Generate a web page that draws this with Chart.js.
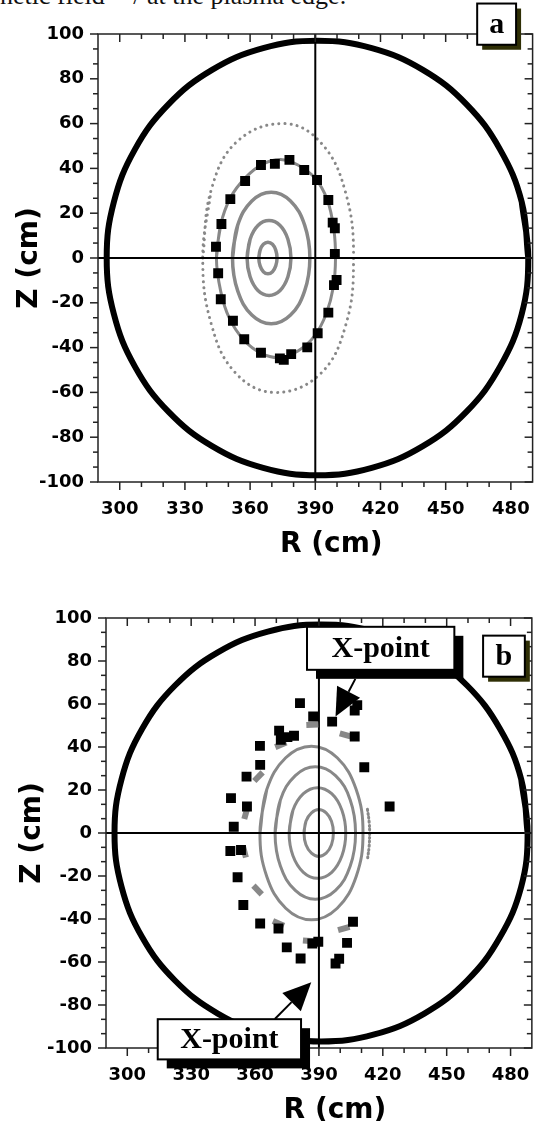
<!DOCTYPE html>
<html>
<head>
<meta charset="utf-8">
<script src="https://cdn.jsdelivr.net/npm/chart.js@4.4.1/dist/chart.umd.min.js"></script>
<style>
    html, body { margin: 0; padding: 0; background: #fff; }
    body { width: 547px; height: 1121px; position: relative; overflow: hidden; }
    .panel { position: absolute; left: 0; }
    #cut { position: absolute; left: 0; top: -20px; font: 26px 'Liberation Serif', serif; white-space: nowrap; color: #111; }
</style>
</head>
<body>
<div id="cut">netic field &#8764;/ at the plasma edge.</div>
<canvas id="chartA" class="panel" width="547" height="560" style="top:0"></canvas>
<canvas id="chartB" class="panel" width="547" height="561" style="top:560px"></canvas>
<script>
// Подписи осей
const rTicks = [300, 330, 360, 390, 420, 450, 480];
const zTicks = [-100, -80, -60, -40, -20, 0, 20, 40, 60, 80, 100];

// Стенка камеры (R, Z), см
const wall = [[488, 0], [485, 25], [475, 48.5], [459.6, 68.6], [439.5, 84], [416, 93.7], [391, 97], [366, 93.7],
    [342.5, 84], [322.4, 68.6], [307, 48.5], [297.3, 25], [294, 0], [297.3, -25], [307, -48.5], [322.4, -68.6],
    [342.5, -84], [366, -93.7], [391, -97], [416, -93.7], [439.5, -84], [459.6, -68.6], [475, -48.5], [485, -25],
    [488, 0], [485, 25]];

// Перекрестие R = 390, Z = 0
const lineR390 = [[390, -100], [390, 100]];
const lineZ0 = [[290, 0], [490, 0]];

// Панель a: магнитные поверхности
const ringA1 = [[364, 0], [364.6, 3.5], [366.1, 6.1], [368.2, 7], [370.3, 6.1], [371.8, 3.5], [372.4, 0], [371.8, -3.5],
    [370.3, -6.1], [368.2, -7], [366.1, -6.1], [364.6, -3.5], [364, 0], [364.6, 3.5]];
const ringA2 = [[358.6, 0], [360, 8.4], [363.6, 14.5], [368.7, 16.7], [373.8, 14.5], [377.4, 8.4], [378.8, 0], [377.4, -8.4],
    [373.8, -14.5], [368.7, -16.7], [363.6, -14.5], [360, -8.4], [358.6, 0], [360, 8.4]];
const ringA3 = [[351.9, 0], [354.3, 14.7], [360.8, 25.5], [369.7, 29.4], [378.6, 25.5], [385.1, 14.7], [387.5, 0], [385.1, -14.7],
    [378.6, -25.5], [369.7, -29.4], [360.8, -25.5], [354.3, -14.7], [351.9, 0], [354.3, 14.7]];
const ringA4 = [[344.5, 0], [346.5, 15], [351, 27], [358, 36], [366, 42], [374, 44], [382, 41.5], [390, 35.5], [395.5, 26],
    [398.5, 13], [399.3, 0], [398.3, -13], [395, -25], [389.5, -35], [382, -41.5], [373.5, -44.5], [365, -42.5],
    [357, -36.5], [350.5, -27], [346.5, -15], [344.5, 0], [346.5, 15]];
const ringA5 = [[338.2, 0], [342, 30], [354, 52], [376, 60], [393, 51], [404, 29], [407.6, 0], [404, -30], [392, -52],
    [371, -60], [353, -51], [342, -29], [338.2, 0], [342, 30]];

// Панель a: точки (чёрные квадраты)
const squaresA = [[357.7, 34.4], [350.9, 26.3], [346.8, 15.2], [344.3, 5], [345.3, -6.8], [346.5, -18.4], [352.1, -28],
    [357.3, -36.3], [365, -42.3], [373.7, -44.8], [378.9, -42.9], [386.3, -39.9], [391.1, -33.6], [396, -24.4],
    [398.6, -12.1], [399.8, -9.8], [399, 1.8], [399, 13.3], [398, 15.8], [396, 25.9], [390.8, 34.8], [384.9, 39.3],
    [378.1, 43.8], [371.4, 42], [365, 41.5], [375.5, -45.5]];

// Панель b: магнитные поверхности
const ringB1 = [[383, 0], [383.9, 5.5], [386.5, 9.4], [389.9, 10.9], [393.4, 9.4], [395.9, 5.5], [396.8, 0], [395.9, -5.5],
    [393.4, -9.4], [389.9, -10.9], [386.5, -9.4], [383.9, -5.5], [383, 0], [383.9, 5.5]];
const ringB2 = [[376, 0], [377.8, 10.6], [382.7, 18.3], [389.3, 21.1], [396, 18.3], [400.8, 10.6], [402.6, 0], [400.8, -10.6],
    [396, -18.3], [389.3, -21.1], [382.7, -18.3], [377.8, -10.6], [376, 0], [377.8, 10.6]];
const ringB3 = [[369.4, 0], [371.9, 15.4], [378.9, 26.7], [388.3, 30.8], [397.8, 26.7], [404.7, 15.4], [407.2, 0], [404.7, -15.4],
    [397.8, -26.7], [388.3, -30.8], [378.9, -26.7], [371.9, -15.4], [369.4, 0], [371.9, 15.4]];
const ringB4 = [[362.3, 0], [365.5, 20.2], [374.4, 35], [386.5, 40.4], [398.6, 35], [407.5, 20.2], [410.7, 0], [407.5, -20.2],
    [398.6, -35], [386.5, -40.4], [374.4, -35], [365.5, -20.2], [362.3, 0], [365.5, 20.2]];
const arcB = [[412.8, 11], [413.6, 5], [413.8, 0], [413.6, -6], [412.9, -11.5]];

// Панель b: серые острова и чёрные точки
const islandsB = [[386.9, 50.3], [402.5, 45.6], [372.1, 41], [361.6, 26.2], [355.7, 9.2], [355, -8.7], [361.2, -26.5],
    [371, -42], [385.3, -50.2], [401.7, -44.4]];
const squaresB = [[381.1, 60.4], [387.3, 54.2], [396.2, 51.8], [406.8, 57], [371.3, 47.6], [378.3, 45.2], [375.2, 44.6],
    [372.1, 43.3], [406.8, 44.9], [362.3, 40.5], [362.4, 31.7], [356, 26.2], [411.3, 30.6], [348.7, 16.2], [356.2, 12.3],
    [423.2, 12.3], [350, 2.9], [348.4, -8.4], [353.4, -7.9], [351.8, -20.6], [354.5, -33.5], [362.4, -42.1], [371, -44.4],
    [374.9, -53.2], [381.4, -58.4], [386.9, -51.4], [389.7, -50.6], [406, -41.3], [403.2, -51.1], [397.8, -60.7],
    [399.5, -58.5], [408, 59.5]];

const GRAY = '#888888';
const tickFont = { family: "'DejaVu Sans', sans-serif", size: 18, weight: 'bold' };
const titleFont = "bold 28px 'DejaVu Sans', sans-serif";

const pts = arr => arr.map(([r, z]) => ({ x: r, y: z }));

function ring(arr, width, dash) {
    return {
        data: pts(arr), showLine: true, tension: 0.4, pointRadius: 0, fill: false,
        borderColor: GRAY, borderWidth: width, borderDash: dash || [], borderCapStyle: 'round'
    };
}

function straight(arr, width) {
    return { data: pts(arr), showLine: true, tension: 0, pointRadius: 0, borderColor: '#000', borderWidth: width };
}

// толстая стенка — сглаженная линия
function wallLine(arr, width) {
    return { data: pts(arr), showLine: true, tension: 0.4, pointRadius: 0, borderColor: '#000', borderWidth: width };
}

function squares(arr, radius) {
    return {
        data: pts(arr), showLine: false, pointStyle: 'rect', pointRadius: radius,
        backgroundColor: '#000', borderColor: '#000', pointBorderWidth: 0
    };
}

// серые «чёрточки» вдоль контура
function islands(arr) {
    return {
        data: pts(arr), showLine: false, pointStyle: 'line', pointRadius: 6,
        borderColor: GRAY, pointBorderColor: GRAY, pointBorderWidth: 6,
        pointRotation: (c) => {
            if (!c.raw) return 0;
            const sx = c.chart.scales.x, sy = c.chart.scales.y;
            const dx = sx.getPixelForValue(c.raw.x) - sx.getPixelForValue(389);
            const dy = sy.getPixelForValue(c.raw.y) - sy.getPixelForValue(0);
            return Math.atan2(dy, dx) * 180 / Math.PI + 90;
        }
    };
}

// Рамка, основные и промежуточные риски, подписи осей
const frame = {
    id: 'frame',
    afterDraw(chart) {
        const { ctx, chartArea: a, scales: { x, y } } = chart;
        const line = (x1, y1, x2, y2) => { ctx.beginPath(); ctx.moveTo(x1, y1); ctx.lineTo(x2, y2); ctx.stroke(); };
        ctx.save();
        ctx.strokeStyle = '#222';
        ctx.lineWidth = 1.5;
        ctx.strokeRect(a.left, a.top, a.right - a.left, a.bottom - a.top);
        for (let v = rTicks[0]; v <= rTicks[rTicks.length - 1]; v += 10) {
            const px = x.getPixelForValue(v);
            const len = rTicks.includes(v) ? 8 : 5;
            line(px, a.bottom, px, a.bottom + len);
            line(px, a.top, px, a.top + len);
        }
        const step = (zTicks[1] - zTicks[0]) / 3;
        for (let k = 0; k <= (zTicks.length - 1) * 3; k++) {
            const py = y.getPixelForValue(zTicks[0] + k * step);
            const len = k % 3 === 0 ? 8 : 5;
            line(a.left - len, py, a.left, py);
            line(a.right - len, py, a.right, py);
        }
        ctx.fillStyle = '#000';
        ctx.font = titleFont;
        ctx.textAlign = 'center';
        ctx.textBaseline = 'middle';
        ctx.fillText('R (cm)', (a.left + a.right) / 2 + 16, a.bottom + 63);
        ctx.translate(chart.options.zTitleX, (a.top + a.bottom) / 2);
        ctx.rotate(-Math.PI / 2);
        ctx.fillText('Z (cm)', 0, 0);
        ctx.restore();
    }
};

// Надписи в рамках и стрелки (координаты в R, Z)
function notes(boxes, arrows) {
    return {
        id: 'notes',
        afterDraw(chart) {
            const { ctx, scales: { x, y } } = chart;
            const px = v => x.getPixelForValue(v), py = v => y.getPixelForValue(v);
            ctx.save();
            arrows.forEach(ar => {
                const x1 = px(ar.from[0]), y1 = py(ar.from[1]);
                const x2 = px(ar.to[0]), y2 = py(ar.to[1]);
                const ang = Math.atan2(y2 - y1, x2 - x1);
                const head = 28, half = 13;
                const bx = x2 - head * Math.cos(ang), by = y2 - head * Math.sin(ang);
                ctx.strokeStyle = '#000';
                ctx.lineWidth = 2;
                ctx.beginPath(); ctx.moveTo(x1, y1); ctx.lineTo(bx, by); ctx.stroke();
                ctx.fillStyle = '#000';
                ctx.beginPath();
                ctx.moveTo(x2, y2);
                ctx.lineTo(bx + half * Math.sin(ang), by - half * Math.cos(ang));
                ctx.lineTo(bx - half * Math.sin(ang), by + half * Math.cos(ang));
                ctx.closePath();
                ctx.fill();
            });
            boxes.forEach(b => {
                const l = px(b.r[0]), r = px(b.r[1]), t = py(b.z[0]), bt = py(b.z[1]);
                ctx.fillStyle = b.shadow;
                ctx.fillRect(l + b.off, t + b.off, r - l, bt - t);
                ctx.fillStyle = '#fff';
                ctx.fillRect(l, t, r - l, bt - t);
                ctx.strokeStyle = '#000';
                ctx.lineWidth = 2;
                ctx.strokeRect(l, t, r - l, bt - t);
                ctx.fillStyle = '#000';
                ctx.font = "bold 30px 'Liberation Serif', serif";
                ctx.textAlign = 'center';
                ctx.textBaseline = 'middle';
                ctx.fillText(b.text, (l + r) / 2, (t + bt) / 2 + 1);
            });
            ctx.restore();
        }
    };
}

function panel(id, p) {
    return new Chart(document.getElementById(id), {
        type: 'scatter',
        data: { datasets: p.datasets },
        options: {
            responsive: false,
            animation: false,
            events: [],
            zTitleX: p.zTitleX,
            layout: { padding: p.padding },
            plugins: { legend: { display: false }, tooltip: { enabled: false } },
            scales: {
                x: {
                    type: 'linear', min: 290, max: 490,
                    grid: { display: false, drawTicks: false }, border: { display: false },
                    afterBuildTicks: s => { s.ticks = rTicks.map(v => ({ value: v })); },
                    afterFit: s => { s.height = p.xHeight; },
                    ticks: { font: tickFont, color: '#000', padding: 17, maxRotation: 0, autoSkip: false }
                },
                y: {
                    type: 'linear', min: -100, max: 100,
                    grid: { display: false, drawTicks: false }, border: { display: false },
                    afterBuildTicks: s => { s.ticks = zTicks.map(v => ({ value: v })); },
                    afterFit: s => { s.width = p.yWidth; },
                    ticks: { font: tickFont, color: '#000', padding: 14, autoSkip: false }
                }
            }
        },
        plugins: [frame, notes(p.boxes, p.arrows)]
    });
}

panel('chartA', {
    padding: { top: 34, right: 2, left: 0, bottom: 0 },
    yWidth: 98, xHeight: 78, zTitleX: 30,
    datasets: [
        squares(squaresA, 7),
        straight(lineR390, 2),
        straight(lineZ0, 2),
        ring(ringA1, 3.5),
        ring(ringA2, 3.5),
        ring(ringA3, 3.5),
        ring(ringA4, 3),
        ring(ringA5, 3, [0.1, 6]),
        wallLine(wall, 6)
    ],
    boxes: [{ text: 'a', r: [464.5, 482.4], z: [113.6, 95.2], shadow: '#2f2f05', off: 5 }],
    arrows: []
});

panel('chartB', {
    padding: { top: 58, right: 13, left: 0, bottom: 0 },
    yWidth: 106, xHeight: 73, zTitleX: 33,
    datasets: [
        squares(squaresB, 7),
        islands(islandsB),
        straight(lineR390, 2),
        straight(lineZ0, 2),
        ring(ringB1, 3),
        ring(ringB2, 3),
        ring(ringB3, 3),
        ring(ringB4, 3),
        ring(arcB, 3, [1, 3]),
        wallLine(wall, 6)
    ],
    boxes: [
        { text: 'b', r: [467.1, 486.7], z: [91.8, 72.7], shadow: '#2f2f05', off: 5 },
        { text: 'X-point', r: [384.4, 453.6], z: [95.9, 75.9], shadow: '#000', off: 9 },
        { text: 'X-point', r: [314.3, 381.6], z: [-86.6, -105.3], shadow: '#000', off: 9 }
    ],
    arrows: [
        { from: [407.1, 71.7], to: [397.8, 54.2] },
        { from: [369.3, -86.5], to: [386.4, -69.4] }
    ]
});
</script>
</body>
</html>
